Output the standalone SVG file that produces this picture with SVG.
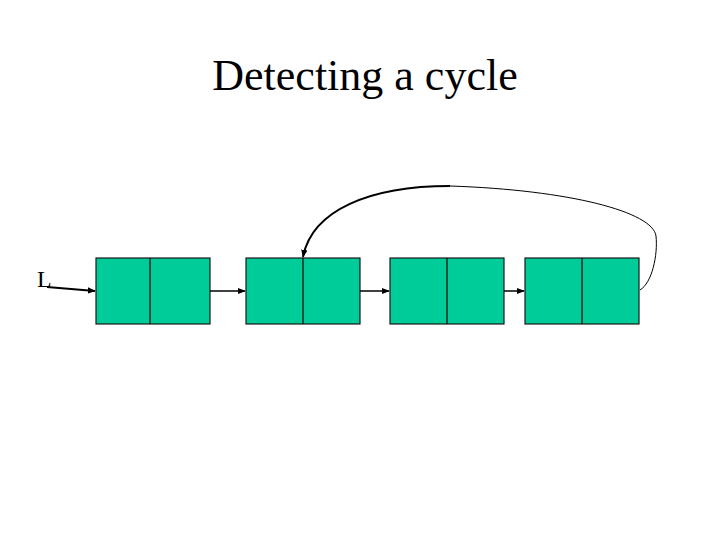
<svg xmlns="http://www.w3.org/2000/svg" width="720" height="540" viewBox="0 0 720 540">
<style>
.cell{fill:#00CC99;stroke:#1a1a1a;stroke-width:1.2}
.t{font-family:"Liberation Serif",serif;fill:#000}
.ln{stroke:#000;fill:none}
</style>
<defs>
<marker id="ah2" viewBox="0 0 10 10" refX="9" refY="5" markerWidth="8" markerHeight="8" orient="auto" markerUnits="userSpaceOnUse">
<path d="M0,1 L10,5 L0,9 z" fill="#000"/>
</marker>
</defs>
<rect width="720" height="540" fill="#fff"/>
<text class="t" x="365" y="90" font-size="44" text-anchor="middle">Detecting a cycle</text>
<text class="t" x="37" y="287" font-size="24">L</text>
<g id="node1"><rect class="cell" x="96" y="258" width="114" height="66"/><line class="ln" x1="150" y1="258" x2="150" y2="324" stroke-width="1.2"/></g>
<g id="node2"><rect class="cell" x="246" y="258" width="114" height="66"/><line class="ln" x1="303" y1="258" x2="303" y2="324" stroke-width="1.2"/></g>
<g id="node3"><rect class="cell" x="390" y="258" width="114" height="66"/><line class="ln" x1="447" y1="258" x2="447" y2="324" stroke-width="1.2"/></g>
<g id="node4"><rect class="cell" x="525" y="258" width="114" height="66"/><line class="ln" x1="582" y1="258" x2="582" y2="324" stroke-width="1.2"/></g>
<g id="connectors">
<path class="ln" d="M47,287 L95,291" stroke-width="2" marker-end="url(#ah2)"/>
<line class="ln" x1="210" y1="291" x2="245" y2="291" stroke-width="1.5" marker-end="url(#ah2)"/>
<line class="ln" x1="360" y1="291" x2="389" y2="291" stroke-width="1.5" marker-end="url(#ah2)"/>
<line class="ln" x1="504" y1="291" x2="524" y2="291" stroke-width="1.5" marker-end="url(#ah2)"/>
<path class="ln" d="M640,290 C652,283 658,255 656,236 C653,212 570,190 450,186" stroke-width="1"/>
<path class="ln" d="M450,186 C370,186 312,210 303,257" stroke-width="2" marker-end="url(#ah2)"/>
</g>
</svg>
